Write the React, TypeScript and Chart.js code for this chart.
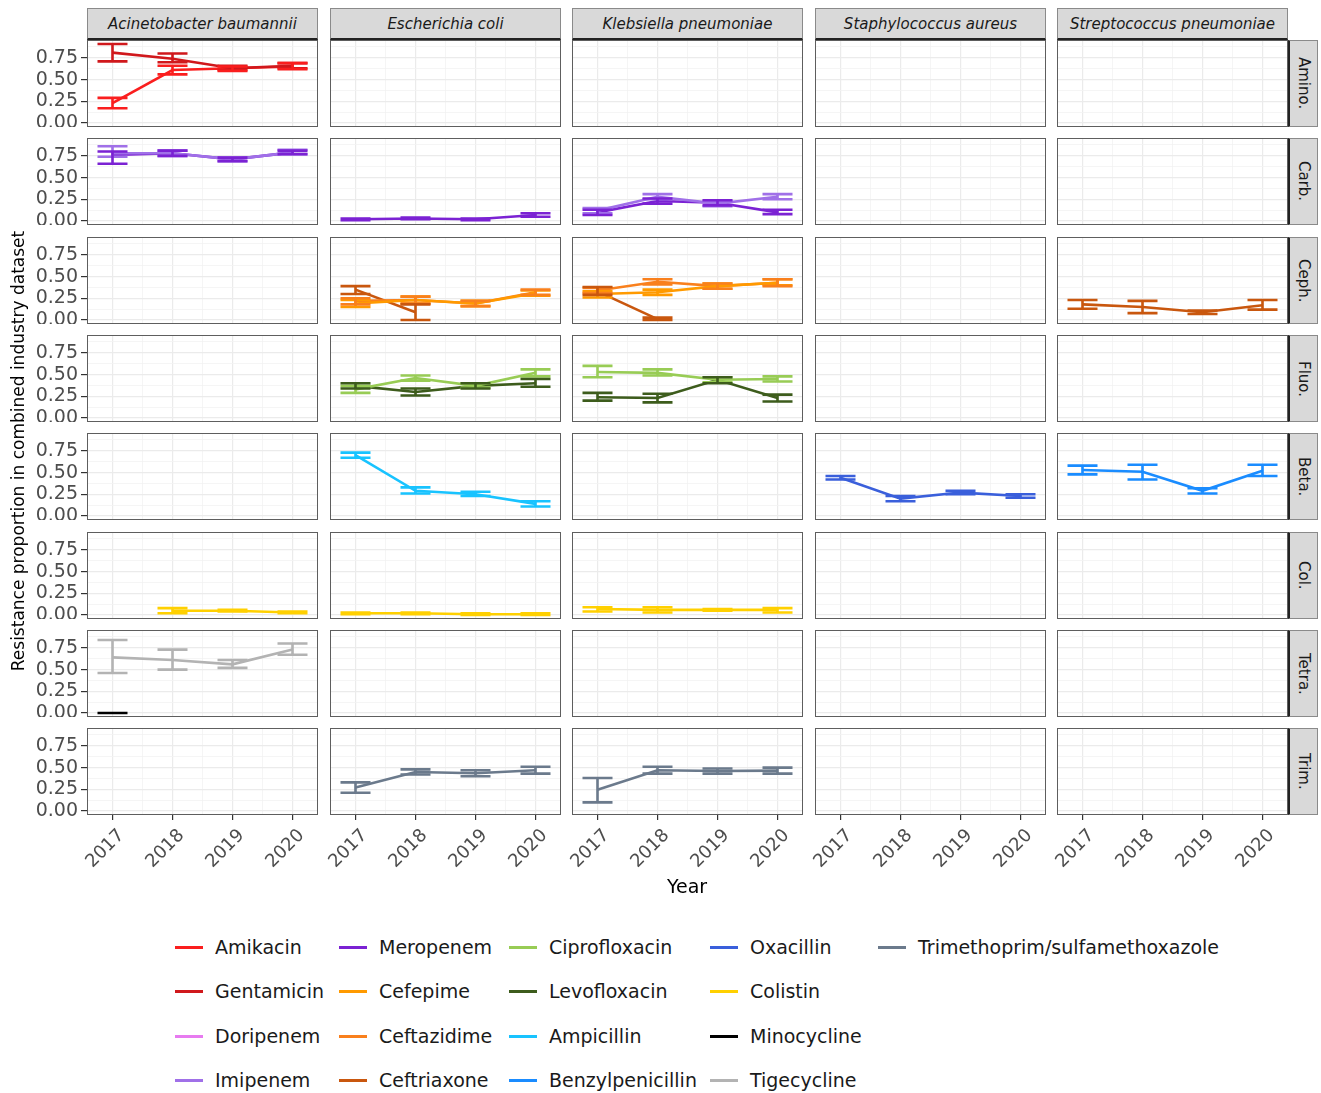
import React, { useEffect, useRef } from "react";
import { Chart, registerables } from "chart.js";
Chart.register(...registerables);

const FONT = "'DejaVu Sans', 'Liberation Sans', sans-serif";

// ---------- axes / facets ----------
const years = [2017, 2018, 2019, 2020];
const organisms = ["Acinetobacter baumannii", "Escherichia coli", "Klebsiella pneumoniae", "Staphylococcus aureus", "Streptococcus pneumoniae"];
const drugClasses = ["Amino.", "Carb.", "Ceph.", "Fluo.", "Beta.", "Col.", "Tetra.", "Trim."];
const yTickValues = [0, 0.125, 0.25, 0.375, 0.5, 0.625, 0.75, 0.875];
const xTickValues = [2017, 2017.5, 2018, 2018.5, 2019, 2019.5, 2020];

// ---------- legend ----------
const drugNames = ["Amikacin", "Gentamicin", "Doripenem", "Imipenem", "Meropenem", "Cefepime", "Ceftazidime", "Ceftriaxone", "Ciprofloxacin", "Levofloxacin", "Ampicillin", "Benzylpenicillin", "Oxacillin", "Colistin", "Minocycline", "Tigecycline", "Trimethoprim/sulfamethoxazole"];
const drugColors = ["#FA1E1E", "#D0181C", "#E77BF0", "#A070E8", "#7B22D3", "#FF9A00", "#F9801D", "#C9570E", "#98CC55", "#3D5C1C", "#18C3FF", "#1A8CFF", "#3A5FDB", "#FFD000", "#000000", "#B3B3B3", "#6B7A8C"];

// ---------- data (mean, lower, upper per year; null = no data) ----------
// Acinetobacter baumannii
const abAmikacin = [0.23, 0.61, 0.63, 0.65];
const abAmikacinLo = [0.17, 0.56, 0.6, 0.62];
const abAmikacinHi = [0.29, 0.66, 0.65, 0.69];
const abGentamicin = [0.81, 0.74, 0.63, 0.66];
const abGentamicinLo = [0.71, 0.7, 0.61, 0.63];
const abGentamicinHi = [0.91, 0.8, 0.66, 0.69];
const abImipenem = [0.78, 0.78, 0.71, 0.79];
const abImipenemLo = [0.74, 0.75, 0.69, 0.77];
const abImipenemHi = [0.86, 0.81, 0.73, 0.82];
const abMeropenem = [0.76, 0.78, 0.71, 0.79];
const abMeropenemLo = [0.66, 0.75, 0.69, 0.77];
const abMeropenemHi = [0.8, 0.81, 0.73, 0.81];
const abColistin = [null, 0.05, 0.05, 0.03];
const abColistinLo = [null, 0.02, 0.04, 0.02];
const abColistinHi = [null, 0.08, 0.06, 0.04];
const abTigecycline = [0.64, 0.61, 0.56, 0.73];
const abTigecyclineLo = [0.46, 0.5, 0.52, 0.67];
const abTigecyclineHi = [0.84, 0.73, 0.61, 0.8];
const abMinocycline = [0, null, null, null];
const abMinocyclineLo = [0, null, null, null];
const abMinocyclineHi = [0, null, null, null];

// Escherichia coli
const ecMeropenem = [0.02, 0.03, 0.02, 0.07];
const ecMeropenemLo = [0.01, 0.02, 0.01, 0.05];
const ecMeropenemHi = [0.03, 0.04, 0.03, 0.09];
const ecCefepime = [0.19, 0.23, 0.19, 0.31];
const ecCefepimeLo = [0.15, 0.19, 0.16, 0.28];
const ecCefepimeHi = [0.23, 0.27, 0.22, 0.34];
const ecCeftazidime = [0.22, 0.23, 0.19, 0.32];
const ecCeftazidimeLo = [0.18, 0.19, 0.16, 0.29];
const ecCeftazidimeHi = [0.25, 0.27, 0.22, 0.35];
const ecCeftriaxone = [0.35, 0.09, null, null];
const ecCeftriaxoneLo = [0.3, 0.0, null, null];
const ecCeftriaxoneHi = [0.39, 0.18, null, null];
const ecCiprofloxacin = [0.33, 0.46, 0.37, 0.52];
const ecCiprofloxacinLo = [0.29, 0.43, 0.35, 0.48];
const ecCiprofloxacinHi = [0.37, 0.49, 0.4, 0.56];
const ecLevofloxacin = [0.37, 0.3, 0.37, 0.4];
const ecLevofloxacinLo = [0.34, 0.26, 0.34, 0.36];
const ecLevofloxacinHi = [0.4, 0.34, 0.4, 0.45];
const ecAmpicillin = [0.7, 0.29, 0.25, 0.14];
const ecAmpicillinLo = [0.67, 0.26, 0.23, 0.11];
const ecAmpicillinHi = [0.73, 0.33, 0.28, 0.17];
const ecColistin = [0.02, 0.02, 0.01, 0.01];
const ecColistinLo = [0.01, 0.01, 0.0, 0.0];
const ecColistinHi = [0.03, 0.03, 0.02, 0.02];
const ecTrimethoprim = [0.27, 0.45, 0.435, 0.47];
const ecTrimethoprimLo = [0.21, 0.42, 0.4, 0.43];
const ecTrimethoprimHi = [0.33, 0.48, 0.47, 0.51];

// Klebsiella pneumoniae
const kpImipenem = [0.12, 0.28, 0.2, 0.28];
const kpImipenemLo = [0.09, 0.25, 0.17, 0.25];
const kpImipenemHi = [0.15, 0.31, 0.23, 0.31];
const kpMeropenem = [0.1, 0.23, 0.21, 0.1];
const kpMeropenemLo = [0.07, 0.2, 0.18, 0.08];
const kpMeropenemHi = [0.13, 0.26, 0.24, 0.13];
const kpCefepime = [0.3, 0.32, 0.39, 0.43];
const kpCefepimeLo = [0.26, 0.29, 0.36, 0.4];
const kpCefepimeHi = [0.33, 0.35, 0.42, 0.47];
const kpCeftazidime = [0.34, 0.44, 0.39, 0.43];
const kpCeftazidimeLo = [0.31, 0.41, 0.36, 0.39];
const kpCeftazidimeHi = [0.37, 0.47, 0.42, 0.47];
const kpCeftriaxone = [0.33, 0.01, null, null];
const kpCeftriaxoneLo = [0.29, 0.0, null, null];
const kpCeftriaxoneHi = [0.38, 0.03, null, null];
const kpCiprofloxacin = [0.53, 0.52, 0.44, 0.45];
const kpCiprofloxacinLo = [0.47, 0.49, 0.41, 0.42];
const kpCiprofloxacinHi = [0.6, 0.56, 0.47, 0.48];
const kpLevofloxacin = [0.24, 0.23, 0.44, 0.23];
const kpLevofloxacinLo = [0.2, 0.18, 0.4, 0.19];
const kpLevofloxacinHi = [0.29, 0.28, 0.47, 0.27];
const kpColistin = [0.07, 0.06, 0.06, 0.06];
const kpColistinLo = [0.04, 0.03, 0.05, 0.03];
const kpColistinHi = [0.09, 0.09, 0.07, 0.08];
const kpTrimethoprim = [0.245, 0.47, 0.46, 0.465];
const kpTrimethoprimLo = [0.1, 0.43, 0.43, 0.43];
const kpTrimethoprimHi = [0.38, 0.51, 0.49, 0.5];

// Staphylococcus aureus
const saOxacillin = [0.44, 0.2, 0.27, 0.23];
const saOxacillinLo = [0.42, 0.17, 0.25, 0.21];
const saOxacillinHi = [0.46, 0.23, 0.29, 0.25];

// Streptococcus pneumoniae
const spCeftriaxone = [0.18, 0.15, 0.09, 0.17];
const spCeftriaxoneLo = [0.13, 0.08, 0.07, 0.12];
const spCeftriaxoneHi = [0.23, 0.22, 0.11, 0.23];
const spBenzylpenicillin = [0.53, 0.51, 0.29, 0.52];
const spBenzylpenicillinLo = [0.48, 0.42, 0.26, 0.46];
const spBenzylpenicillinHi = [0.58, 0.59, 0.32, 0.59];

type Series = { drug: string; mean: (number | null)[]; lo: (number | null)[]; hi: (number | null)[] };
const s = (drug: string, mean: any[], lo: any[], hi: any[]): Series => ({ drug, mean, lo, hi });

const panelSeries: Record<string, Series[]> = {
  "0-0": [s("Gentamicin", abGentamicin, abGentamicinLo, abGentamicinHi), s("Amikacin", abAmikacin, abAmikacinLo, abAmikacinHi)],
  "0-1": [s("Imipenem", abImipenem, abImipenemLo, abImipenemHi), s("Meropenem", abMeropenem, abMeropenemLo, abMeropenemHi)],
  "0-5": [s("Colistin", abColistin, abColistinLo, abColistinHi)],
  "0-6": [s("Tigecycline", abTigecycline, abTigecyclineLo, abTigecyclineHi), s("Minocycline", abMinocycline, abMinocyclineLo, abMinocyclineHi)],
  "1-1": [s("Meropenem", ecMeropenem, ecMeropenemLo, ecMeropenemHi)],
  "1-2": [s("Cefepime", ecCefepime, ecCefepimeLo, ecCefepimeHi), s("Ceftazidime", ecCeftazidime, ecCeftazidimeLo, ecCeftazidimeHi), s("Ceftriaxone", ecCeftriaxone, ecCeftriaxoneLo, ecCeftriaxoneHi)],
  "1-3": [s("Ciprofloxacin", ecCiprofloxacin, ecCiprofloxacinLo, ecCiprofloxacinHi), s("Levofloxacin", ecLevofloxacin, ecLevofloxacinLo, ecLevofloxacinHi)],
  "1-4": [s("Ampicillin", ecAmpicillin, ecAmpicillinLo, ecAmpicillinHi)],
  "1-5": [s("Colistin", ecColistin, ecColistinLo, ecColistinHi)],
  "1-7": [s("Trimethoprim/sulfamethoxazole", ecTrimethoprim, ecTrimethoprimLo, ecTrimethoprimHi)],
  "2-1": [s("Imipenem", kpImipenem, kpImipenemLo, kpImipenemHi), s("Meropenem", kpMeropenem, kpMeropenemLo, kpMeropenemHi)],
  "2-2": [s("Cefepime", kpCefepime, kpCefepimeLo, kpCefepimeHi), s("Ceftazidime", kpCeftazidime, kpCeftazidimeLo, kpCeftazidimeHi), s("Ceftriaxone", kpCeftriaxone, kpCeftriaxoneLo, kpCeftriaxoneHi)],
  "2-3": [s("Ciprofloxacin", kpCiprofloxacin, kpCiprofloxacinLo, kpCiprofloxacinHi), s("Levofloxacin", kpLevofloxacin, kpLevofloxacinLo, kpLevofloxacinHi)],
  "2-5": [s("Colistin", kpColistin, kpColistinLo, kpColistinHi)],
  "2-7": [s("Trimethoprim/sulfamethoxazole", kpTrimethoprim, kpTrimethoprimLo, kpTrimethoprimHi)],
  "3-4": [s("Oxacillin", saOxacillin, saOxacillinLo, saOxacillinHi)],
  "4-2": [s("Ceftriaxone", spCeftriaxone, spCeftriaxoneLo, spCeftriaxoneHi)],
  "4-4": [s("Benzylpenicillin", spBenzylpenicillin, spBenzylpenicillinLo, spBenzylpenicillinHi)],
};

// ---------- geometry ----------
const PANEL_W = 231;
const PANEL_H = 87;
const colLeft = (c: number) => Math.round(87 + c * 242.5);
const rowTop = (r: number) => Math.round(40 + r * 98.3);
const X_AXIS_H = 64;
const EXTRA_LEFT_BOTTOM = 40;
const X_MIN = 2016.575;
const X_MAX = 2020.425;
const Y_MIN = -0.0455;
const Y_MAX = 0.9555;

const colorOf = (drug: string) => drugColors[drugNames.indexOf(drug)];
const isMajorY = (v: number) => Math.abs(v / 0.25 - Math.round(v / 0.25)) < 1e-6;
const isMajorX = (v: number) => Math.abs(v - Math.round(v)) < 1e-6;

const zeroPad = (sc: any) => {
  sc.paddingTop = 0;
  sc.paddingBottom = 0;
  sc.paddingLeft = 0;
  sc.paddingRight = 0;
};

function Panel({ col, row }: { col: number; row: number }) {
  const ref = useRef<HTMLCanvasElement | null>(null);
  const series = panelSeries[`${col}-${row}`] || [];
  const showY = col === 0;
  const showX = row === drugClasses.length - 1;
  const axisW = showY ? colLeft(0) : showX ? EXTRA_LEFT_BOTTOM : 0;
  const left = colLeft(col) - axisW;
  const width = PANEL_W + axisW;
  const top = rowTop(row);
  const height = PANEL_H + (showX ? X_AXIS_H : 0);

  useEffect(() => {
    if (!ref.current) return;
    const datasets = series.map((se) => ({
      type: "line" as const,
      label: se.drug,
      data: years
        .map((yr, i) => (se.mean[i] == null ? null : { x: yr, y: se.mean[i] as number }))
        .filter((p) => p !== null),
      borderColor: colorOf(se.drug),
      backgroundColor: colorOf(se.drug),
      borderWidth: 2.6,
      pointRadius: 0,
      tension: 0,
      fill: false,
    }));

    const errorBars = {
      id: "errorBars",
      afterDatasetsDraw(chart: any) {
        const { ctx, chartArea, scales } = chart;
        const xs = scales.x;
        const ys = scales.y;
        ctx.save();
        ctx.beginPath();
        ctx.rect(chartArea.left, chartArea.top, chartArea.right - chartArea.left, chartArea.bottom - chartArea.top);
        ctx.clip();
        ctx.lineWidth = 2.6;
        ctx.lineCap = "butt";
        series.forEach((se) => {
          ctx.strokeStyle = colorOf(se.drug);
          years.forEach((yr, i) => {
            const lo = se.lo[i];
            const hi = se.hi[i];
            if (lo == null || hi == null) return;
            const xl = xs.getPixelForValue(yr - 0.25);
            const xr = xs.getPixelForValue(yr + 0.25);
            const xc = xs.getPixelForValue(yr);
            const yl = ys.getPixelForValue(lo);
            const yh = ys.getPixelForValue(hi);
            ctx.beginPath();
            ctx.moveTo(xl, yh);
            ctx.lineTo(xr, yh);
            ctx.moveTo(xl, yl);
            ctx.lineTo(xr, yl);
            ctx.moveTo(xc, yh);
            ctx.lineTo(xc, yl);
            ctx.stroke();
          });
        });
        ctx.restore();
      },
    };

    const frame = {
      id: "frame",
      afterDraw(chart: any) {
        const { ctx, chartArea } = chart;
        ctx.save();
        ctx.strokeStyle = "#5e5e5e";
        ctx.lineWidth = 1;
        ctx.strokeRect(chartArea.left + 0.5, chartArea.top + 0.5, chartArea.right - chartArea.left - 1, chartArea.bottom - chartArea.top - 1);
        ctx.restore();
      },
    };

    const chart = new Chart(ref.current, {
      type: "line",
      data: { datasets },
      plugins: [errorBars, frame],
      options: {
        animation: false,
        responsive: false,
        devicePixelRatio: 1,
        events: [],
        layout: { padding: 0 },
        plugins: { legend: { display: false }, tooltip: { enabled: false } },
        scales: {
          x: {
            type: "linear",
            min: X_MIN,
            max: X_MAX,
            afterBuildTicks: (sc: any) => {
              sc.ticks = xTickValues.map((v) => ({ value: v }));
            },
            afterFit: (sc: any) => {
              sc.height = showX ? X_AXIS_H : 0;
              zeroPad(sc);
            },
            border: { display: false },
            grid: {
              color: (c: any) => (c.tick && isMajorX(c.tick.value) ? "#EBEBEB" : "#F3F3F3"),
              lineWidth: (c: any) => (c.tick && isMajorX(c.tick.value) ? 1.2 : 0.8),
              drawTicks: showX,
              tickLength: 5,
              tickWidth: 1.2,
              tickColor: (c: any) => (c.tick && isMajorX(c.tick.value) ? "#333333" : "rgba(0,0,0,0)"),
            },
            ticks: {
              display: showX,
              autoSkip: false,
              minRotation: 45,
              maxRotation: 45,
              padding: 5,
              labelOffset: 9,
              color: "#4D4D4D",
              font: { family: FONT, size: 18 },
              callback: (v: any) => (isMajorX(Number(v)) ? String(Math.round(Number(v))) : ""),
            },
          },
          y: {
            type: "linear",
            min: Y_MIN,
            max: Y_MAX,
            afterBuildTicks: (sc: any) => {
              sc.ticks = yTickValues.map((v) => ({ value: v }));
            },
            afterFit: (sc: any) => {
              sc.width = axisW;
              zeroPad(sc);
            },
            border: { display: false },
            grid: {
              color: (c: any) => (c.tick && isMajorY(c.tick.value) ? "#EBEBEB" : "#F3F3F3"),
              lineWidth: (c: any) => (c.tick && isMajorY(c.tick.value) ? 1.2 : 0.8),
              drawTicks: showY,
              tickLength: 6,
              tickWidth: 1.2,
              tickColor: (c: any) => (c.tick && isMajorY(c.tick.value) ? "#333333" : "rgba(0,0,0,0)"),
            },
            ticks: {
              display: showY,
              autoSkip: false,
              padding: 3,
              color: "#4D4D4D",
              font: { family: FONT, size: 19 },
              callback: (v: any) => (isMajorY(Number(v)) ? Number(v).toFixed(2) : ""),
            },
          },
        },
      } as any,
    } as any);
    return () => chart.destroy();
  }, []);

  return (
    <canvas
      ref={ref}
      width={width}
      height={height}
      style={{ position: "absolute", left, top, width, height, display: "block" }}
    />
  );
}

export default function App() {
  const panels: { col: number; row: number }[] = [];
  for (let r = 0; r < drugClasses.length; r++) for (let c = 0; c < organisms.length; c++) panels.push({ col: c, row: r });

  const legendColX = [175, 339, 509, 710, 878];
  const legendRowY = [947, 991, 1036, 1080];

  return (
    <div style={{ position: "absolute", left: 0, top: 0, width: 1321, height: 1093, background: "#ffffff", overflow: "hidden", fontFamily: FONT }}>
      {panels.map((p) => (
        <Panel key={`${p.col}-${p.row}`} col={p.col} row={p.row} />
      ))}

      {organisms.map((o, c) => (
        <div
          key={o}
          style={{
            position: "absolute",
            left: colLeft(c),
            top: 8,
            width: PANEL_W,
            height: 32,
            boxSizing: "border-box",
            background: "#D9D9D9",
            border: "1px solid #8a8a8a",
            borderBottom: "2px solid #222",
            display: "flex",
            alignItems: "center",
            justifyContent: "center",
            fontStyle: "italic",
            fontSize: 15,
            color: "#1A1A1A",
          }}
        >
          {o}
        </div>
      ))}

      {drugClasses.map((d, r) => (
        <div
          key={d}
          style={{
            position: "absolute",
            left: colLeft(4) + PANEL_W,
            top: rowTop(r),
            width: 30,
            height: PANEL_H,
            boxSizing: "border-box",
            background: "#D9D9D9",
            border: "1px solid #8a8a8a",
            borderLeft: "2px solid #222",
            display: "flex",
            alignItems: "center",
            justifyContent: "center",
            fontSize: 15,
            color: "#1A1A1A",
          }}
        >
          <span style={{ writingMode: "vertical-rl" as any }}>{d}</span>
        </div>
      ))}

      <div
        style={{
          position: "absolute",
          left: 18 - 300,
          top: 451 - 11,
          width: 600,
          height: 22,
          lineHeight: "22px",
          textAlign: "center",
          transform: "rotate(-90deg)",
          fontSize: 17,
          color: "#000",
        }}
      >
        Resistance proportion in combined industry dataset
      </div>

      <div
        style={{
          position: "absolute",
          left: 687 - 100,
          top: 875,
          width: 200,
          height: 22,
          lineHeight: "22px",
          textAlign: "center",
          fontSize: 19,
          color: "#000",
        }}
      >
        Year
      </div>

      {drugNames.map((name, i) => {
        const c = Math.floor(i / 4);
        const r = i % 4;
        return (
          <div key={name} style={{ position: "absolute", left: legendColX[c], top: legendRowY[r] - 12, height: 24, display: "flex", alignItems: "center", whiteSpace: "nowrap" }}>
            <div style={{ width: 28, height: 3, background: drugColors[i], marginRight: 12 }} />
            <span style={{ fontSize: 19, color: "#1A1A1A", lineHeight: "24px" }}>{name}</span>
          </div>
        );
      })}
    </div>
  );
}
